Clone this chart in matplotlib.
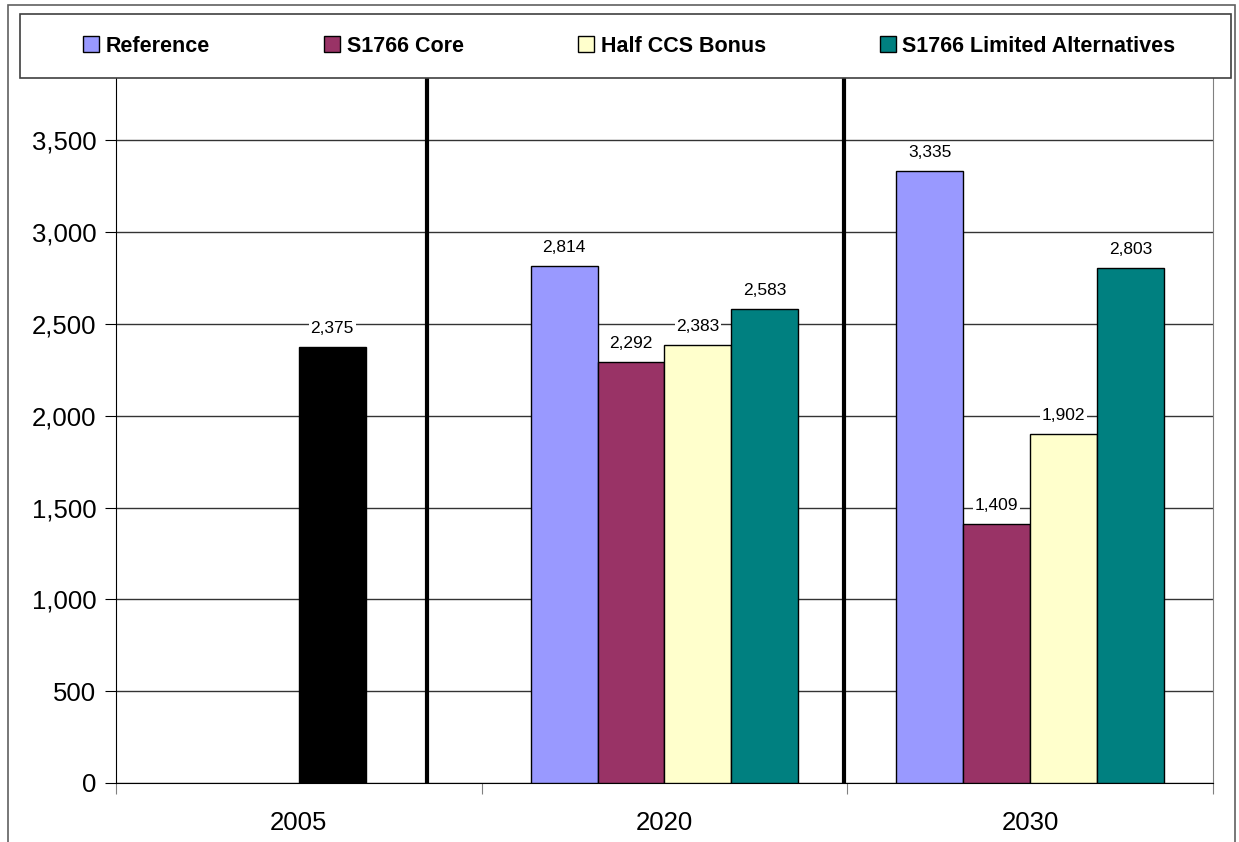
import matplotlib.pyplot as plt
import matplotlib.patches as mpatches
import numpy as np

# --- DATA ---
years = ["2005", "2020", "2030"]
series_names = ["Reference", "S1766 Core", "Half CCS Bonus", "S1766 Limited Alternatives"]
reference = [None, 2814, 3335]
core = [None, 2292, 1409]
half_ccs = [None, 2383, 1902]
limited_alt = [None, 2583, 2803]
base_2005 = 2375
colors = ["#9999FF", "#993366", "#FFFFCC", "#008080"]
separators = [0.35, 1.49]  # thick divider lines between groups

plt.rcParams['font.family'] = ['Liberation Sans', 'DejaVu Sans']

fig = plt.figure(figsize=(12.39, 8.42), dpi=100)
ax = fig.add_axes([0.0936, 0.0701, 0.8854, 0.8373])

w = 0.183
x = np.arange(len(years))
all_series = [reference, core, half_ccs, limited_alt]
handles = []

def label(xpos, val):
    ax.annotate(f"{val:,}", (xpos, val), xytext=(0, 8), textcoords="offset points",
                ha="center", va="bottom", fontsize=12.5,
                bbox=dict(boxstyle="square,pad=0.1", fc="white", ec="none"), zorder=4)

for i, (vals, c) in enumerate(zip(all_series, colors)):
    off = (i - 1.5) * w
    xs = [x[j] + off for j in range(len(years)) if vals[j] is not None]
    ys = [v for v in vals if v is not None]
    b = ax.bar(xs, ys, w, color=c, edgecolor="black", linewidth=1, zorder=3)
    handles.append(b)
    for xp, v in zip(xs, ys):
        label(xp, v)

# 2005 historical bar
ax.bar(x[0] + 0.5 * w, base_2005, w, color="black", edgecolor="black", linewidth=1, zorder=3)
label(x[0] + 0.5 * w, base_2005)

for s in separators:
    ax.axvline(s, color="black", linewidth=3, zorder=5)

ax.set_xlim(-0.5, 2.5)
ax.set_ylim(0, 3840)
ax.set_yticks(range(0, 3501, 500))
ax.set_yticklabels([f"{v:,}" for v in range(0, 3501, 500)], fontsize=18.5)
ax.yaxis.grid(True, color="#333333", linewidth=1)
ax.set_axisbelow(True)

ax.set_xticks([-0.5, 0.5, 1.5, 2.5], minor=False)
ax.set_xticklabels([])
ax.set_xticks(x, minor=True)
ax.set_xticklabels(years, minor=True, fontsize=18.5)
ax.tick_params(axis="x", which="minor", length=0, pad=20)
ax.tick_params(axis="x", which="major", length=8, color="#808080")
ax.tick_params(axis="y", length=8, color="black", pad=6)

ax.spines["top"].set_visible(False)
ax.spines["right"].set_color("#808080")
ax.spines["left"].set_color("black")
ax.spines["bottom"].set_color("black")

# outer chart border and legend box
fig.patches.append(mpatches.Rectangle((8 / 1239, -0.1), 1227 / 1239, 1.1 - 5 / 842,
                                      transform=fig.transFigure, fill=False,
                                      edgecolor="#606060", linewidth=1.2))
fig.patches.append(mpatches.Rectangle((20 / 1239, 1 - 78 / 842), 1211 / 1239, 64 / 842,
                                      transform=fig.transFigure, facecolor="white",
                                      edgecolor="#404040", linewidth=1.2, zorder=10))

leg = fig.legend(handles, series_names, loc="center", ncol=4, frameon=False,
                 bbox_to_anchor=(0.508, 1 - 46 / 842), prop={"weight": "bold", "size": 15.5},
                 handlelength=0.75, handleheight=0.75, handletextpad=0.3, columnspacing=5.3)
leg.set_zorder(11)

fig.savefig("out.png", dpi=100)
